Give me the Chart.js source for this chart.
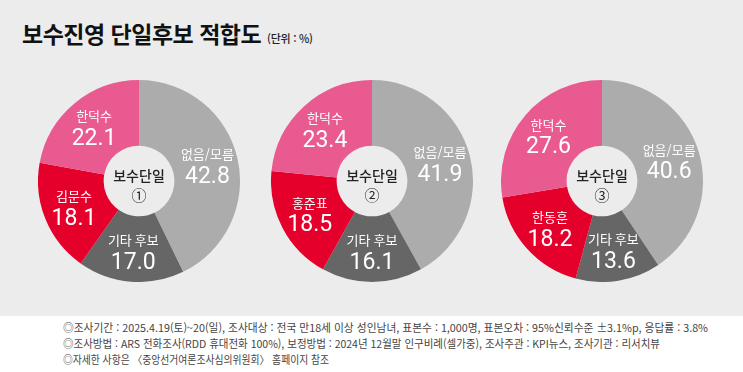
<!DOCTYPE html>
<html lang="ko">
<head>
<meta charset="utf-8">
<title>보수진영 단일후보 적합도</title>
<script src="https://cdn.jsdelivr.net/npm/chart.js@4.4.1/dist/chart.umd.min.js"></script>
<style>
    html, body {
        margin: 0;
        padding: 0;
    }
    body {
        width: 743px;
        height: 372px;
        position: relative;
        overflow: hidden;
        background: #ececec;
        font-family: "Noto Sans CJK KR", "Noto Sans", sans-serif;
    }
    .title {
        position: absolute;
        left: 22px;
        top: 16px;
        font-size: 23px;
        font-weight: 700;
        color: #111;
        letter-spacing: -0.5px;
        white-space: nowrap;
    }
    .title small {
        font-size: 11px;
        font-weight: 500;
        letter-spacing: -0.3px;
        color: #222;
    }
    .pie {
        position: absolute;
        width: 202px;
        height: 202px;
    }
    .footer {
        position: absolute;
        left: 0;
        top: 316px;
        width: 743px;
        height: 56px;
        background: #fff;
    }
    .footer p {
        position: absolute;
        left: 63px;
        margin: 0;
        font-size: 11px;
        line-height: 14px;
        color: #444;
        white-space: nowrap;
        transform-origin: 0 50%;
    }
</style>
</head>
<body>
<div class="title">보수진영 단일후보 적합도 <small>(단위 : %)</small></div>

<canvas id="pie1" class="pie"></canvas>
<canvas id="pie2" class="pie"></canvas>
<canvas id="pie3" class="pie"></canvas>

<div class="footer">
    <p id="note1" style="top:4px">◎조사기간 : 2025.4.19(토)~20(일), 조사대상 : 전국 만18세 이상 성인남녀, 표본수 : 1,000명, 표본오차 : 95%신뢰수준 ±3.1%p, 응답률 : 3.8%</p>
    <p id="note2" style="top:20px">◎조사방법 : ARS 전화조사(RDD 휴대전화 100%), 보정방법 : 2024년 12월말 인구비례(셀가중), 조사주관 : KPI뉴스, 조사기관 : 리서치뷰</p>
    <p id="note3" style="top:36px">◎자세한 사항은 〈중앙선거여론조사심의위원회〉 홈페이지 참조</p>
</div>

<script>
// Scenario names (centre of each doughnut)
const scenarios = ['보수단일\n①', '보수단일\n②', '보수단일\n③'];

// Segment labels per scenario, clockwise from 12 o'clock
const labels1 = ['없음/모름', '기타 후보', '김문수', '한덕수'];
const labels2 = ['없음/모름', '기타 후보', '홍준표', '한덕수'];
const labels3 = ['없음/모름', '기타 후보', '한동훈', '한덕수'];

// Values (%)
const values1 = [42.8, 17.0, 18.1, 22.1];
const values2 = [41.9, 16.1, 18.5, 23.4];
const values3 = [40.6, 13.6, 18.2, 27.6];

const sliceColors = ['#acacac', '#666666', '#e4002b', '#e95a90'];

// Pixel centres of the three doughnuts
const centres = [[139, 181], [372, 181], [602, 181]];
const RADIUS = 101;

/**
 * Draw segment names + values and the centre caption
 */
const labelPlugin = {
    id: 'sliceLabels',
    afterDatasetsDraw(chart, args, opts) {
        const ctx = chart.ctx;
        const meta = chart.getDatasetMeta(0);
        const data = chart.data.datasets[0].data;

        ctx.save();
        ctx.textAlign = 'center';
        ctx.textBaseline = 'middle';
        ctx.fillStyle = '#fff';

        meta.data.forEach((arc, i) => {
            const p = arc.getProps(['x', 'y', 'startAngle', 'endAngle', 'innerRadius', 'outerRadius'], true);
            const mid = (p.startAngle + p.endAngle) / 2;
            const r = (p.innerRadius + p.outerRadius) / 2 + 2;
            const x = p.x + Math.cos(mid) * r;
            const y = p.y + Math.sin(mid) * r;

            ctx.font = '400 13px "Noto Sans CJK KR"';
            ctx.fillText(chart.data.labels[i], x, y - 11);
            ctx.font = '400 23px Roboto, "Noto Sans"';
            ctx.fillText(data[i].toFixed(1), x, y + 12);
        });

        // centre caption
        const c = meta.data[0];
        const lines = opts.caption.split('\n');
        ctx.fillStyle = '#222';
        ctx.font = '500 14px "Noto Sans CJK KR"';
        ctx.fillText(lines[0], c.x, c.y - 5);
        ctx.font = '400 15px "Noto Sans CJK KR"';
        ctx.fillText(lines[1], c.x, c.y + 14);
        ctx.restore();
    }
};

function makeDoughnut(id, labels, values, caption, centre) {
    const canvas = document.getElementById(id);
    const size = RADIUS * 2;
    canvas.width = size;
    canvas.height = size;
    canvas.style.left = (centre[0] - RADIUS) + 'px';
    canvas.style.top = (centre[1] - RADIUS) + 'px';

    return new Chart(canvas.getContext('2d'), {
        type: 'doughnut',
        data: {
            labels: labels,
            datasets: [{
                data: values,
                backgroundColor: sliceColors,
                borderWidth: 0,
            }]
        },
        options: {
            responsive: false,
            animation: false,
            cutout: '35%',
            layout: { padding: 0 },
            plugins: {
                legend: { display: false },
                tooltip: { enabled: false },
                sliceLabels: { caption: caption }
            }
        },
        plugins: [labelPlugin]
    });
}

// Squeeze footnotes to the reference widths
function fitNote(id, width) {
    const el = document.getElementById(id);
    const w = el.getBoundingClientRect().width;
    el.style.transform = `scaleX(${width / w})`;
}

document.fonts.ready.then(() => {
    makeDoughnut('pie1', labels1, values1, scenarios[0], centres[0]);
    makeDoughnut('pie2', labels2, values2, scenarios[1], centres[1]);
    makeDoughnut('pie3', labels3, values3, scenarios[2], centres[2]);
    fitNote('note1', 645);
    fitNote('note2', 597);
    fitNote('note3', 266);
});
</script>
</body>
</html>
